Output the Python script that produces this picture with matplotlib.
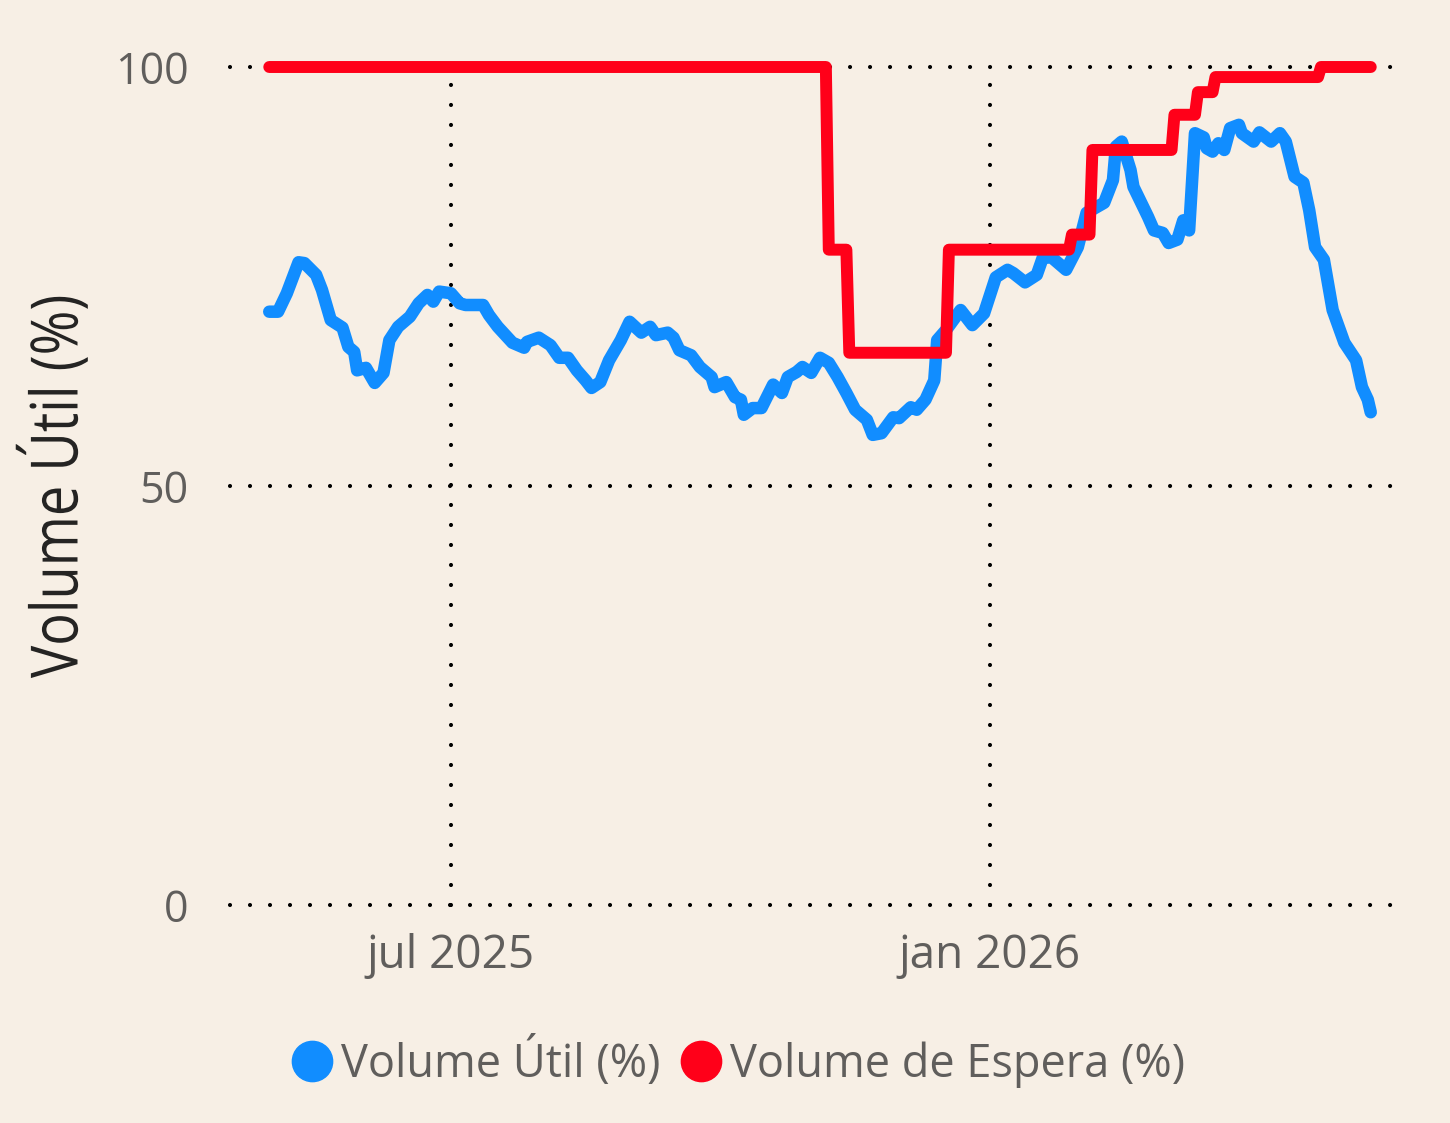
import matplotlib
matplotlib.use("Agg")
import matplotlib.pyplot as plt
from matplotlib.lines import Line2D
from matplotlib.patheffects import AbstractPathEffect
from matplotlib.transforms import Affine2D
import pandas as pd

# ---------------- data ----------------
inicio = "2025-04-30"

dias_util = [0, 3, 6, 10, 12, 16, 18, 21, 25, 27, 29, 30, 33, 36, 39, 41, 44, 48, 51, 54,
             56, 58, 62, 65, 67, 73, 75, 78, 83, 87, 88, 92, 96, 99, 102, 105, 108, 110, 113, 116,
             120, 123, 127, 130, 132, 136, 138, 140, 144, 147, 151, 152, 156, 159, 161, 162, 165, 168, 172, 175,
             177, 180, 182, 185, 188, 191, 194, 197, 200, 204, 206, 209, 213, 215, 219, 221, 224, 227, 228, 231,
             236, 240, 244, 248, 252, 254, 258, 262, 264, 267, 272, 276, 279, 285, 288, 289, 291, 294, 295, 300,
             302, 305, 307, 310, 312, 314, 316, 319, 320, 322, 324, 326, 328, 331, 332, 336, 338, 342, 345, 347,
             350, 353, 355, 357, 360, 363, 367, 371, 373, 375, 376]
volume_util = [70.8, 70.8, 73.0, 76.7, 76.6, 75.2, 73.4, 69.8, 68.9, 66.6, 66.0, 63.8, 64.1, 62.3, 63.5, 67.4, 69.0, 70.2, 71.8, 72.8,
               72.0, 73.2, 73.0, 71.8, 71.6, 71.6, 70.4, 69.0, 67.1, 66.5, 67.2, 67.7, 66.8, 65.3, 65.3, 63.8, 62.6, 61.7, 62.4, 65.0,
               67.4, 69.6, 68.3, 69.0, 68.0, 68.3, 67.7, 66.2, 65.6, 64.2, 63.0, 61.8, 62.4, 60.6, 60.3, 58.5, 59.3, 59.3, 62.1, 61.1,
               63.0, 63.6, 64.2, 63.5, 65.3, 64.7, 63.0, 61.1, 59.1, 57.9, 56.1, 56.3, 58.2, 58.1, 59.4, 59.1, 60.3, 62.6, 67.4, 68.6,
               71.0, 69.2, 70.6, 74.9, 75.8, 75.4, 74.3, 75.2, 77.2, 77.3, 75.8, 78.5, 82.6, 83.8, 86.5, 90.5, 91.1, 87.7, 85.7, 82.1,
               80.5, 80.2, 79.0, 79.4, 81.7, 80.5, 92.1, 91.6, 90.3, 89.9, 90.9, 90.1, 92.7, 93.1, 92.1, 91.1, 92.2, 91.1, 92.1, 91.1,
               86.9, 86.2, 82.9, 78.5, 77.0, 71.0, 67.1, 65.0, 61.8, 60.3, 58.8]

dias_espera = [0, 190, 191, 197, 198, 231, 232, 273, 274, 280, 281, 308, 309, 316, 317, 322, 323, 358, 359, 376]
volume_espera = [100, 100, 78.2, 78.2, 65.9, 65.9, 78.2, 78.2, 80.0, 80.0, 90.1, 90.1, 94.3, 94.3, 97.0, 97.0,
                 98.8, 98.8, 100, 100]

y_ticks = [0, 50, 100]
x_ticks = ["2025-07-01", "2026-01-01"]
x_tick_labels = ["jul 2025", "jan 2026"]
serie_nomes = ["Volume Útil (%)", "Volume de Espera (%)"]
eixo_y_titulo = "Volume Útil (%)"

# ---------------- style ----------------
BG = "#F7EFE5"
BLUE = "#118DFF"
RED = "#FF0019"
GREY = "#605E5C"
DARK = "#252423"

plt.rcParams["font.family"] = ["Open Sans", "DejaVu Sans"]
plt.rcParams["lines.scale_dashes"] = False


class Condense(AbstractPathEffect):
    """Squeeze a text along its baseline (glyphs stay a real Text artist)."""

    def __init__(self, sx):
        super().__init__()
        self.sx = sx

    def draw_path(self, renderer, gc, tpath, affine, rgbFace=None):
        v = tpath.vertices
        cx = (v[:, 0].min() + v[:, 0].max()) / 2.0
        a = Affine2D().translate(-cx, 0).scale(self.sx, 1).translate(cx, 0) + affine
        renderer.draw_path(gc, tpath, a, rgbFace)


W, H = 1450, 1123
fig = plt.figure(figsize=(W / 100, H / 100), dpi=100, facecolor=BG)
ax = fig.add_axes([230 / W, 1 - 905 / H, (1410 - 230) / W, (905 - 67) / H])
ax.set_facecolor(BG)

t0 = pd.Timestamp(inicio)
datas_util = t0 + pd.to_timedelta(dias_util, unit="D")
datas_espera = t0 + pd.to_timedelta(dias_espera, unit="D")

ax.plot(datas_util, volume_util, color=BLUE, lw=9.0, solid_capstyle="round",
        solid_joinstyle="round", clip_on=False, zorder=3)
ax.plot(datas_espera, volume_espera, color=RED, lw=8.6, solid_capstyle="round",
        solid_joinstyle="round", clip_on=False, zorder=4)

jul1 = pd.Timestamp("2025-07-01")
ax.set_xlim(jul1 - pd.Timedelta(days=75.4), jul1 + pd.Timedelta(days=327.4))
ax.set_ylim(0, 100)

ax.set_yticks(y_ticks)
ax.set_yticklabels([str(v) for v in y_ticks])
xt = pd.to_datetime(x_ticks)
ax.set_xticks(xt)
ax.set_xticklabels(x_tick_labels)

for s in ax.spines.values():
    s.set_visible(False)
ax.tick_params(axis="both", length=0, labelcolor=GREY)
ax.tick_params(axis="y", pad=30, labelsize=31)
ax.tick_params(axis="x", pad=20, labelsize=33)

# dotted grid
for y in y_ticks:
    ax.axhline(y, color="black", lw=3.0, dashes=(0.001, 14.4), dash_capstyle="round",
               zorder=1, clip_on=False)
for x in xt:
    ax.axvline(x, color="black", lw=3.0, dashes=(0.001, 14.4), dash_capstyle="round",
               zorder=1, clip_on=False)

fig.text(57 / W, 1 - 486 / H, eixo_y_titulo, rotation=90, ha="center", va="center",
         fontsize=47, color=DARK, path_effects=[Condense(0.83)])

handles = [Line2D([], [], marker="o", linestyle="none", markersize=29,
                  markerfacecolor=c, markeredgecolor=c) for c in (BLUE, RED)]
fig.legend(handles, serie_nomes, loc="center", bbox_to_anchor=(735 / W, 1 - 1062 / H),
           ncol=2, frameon=False, fontsize=32.5, labelcolor=GREY, handletextpad=0.05,
           columnspacing=0.3, handlelength=1.2, borderpad=0, borderaxespad=0)

fig.savefig("out.png", dpi=100, facecolor=BG)
